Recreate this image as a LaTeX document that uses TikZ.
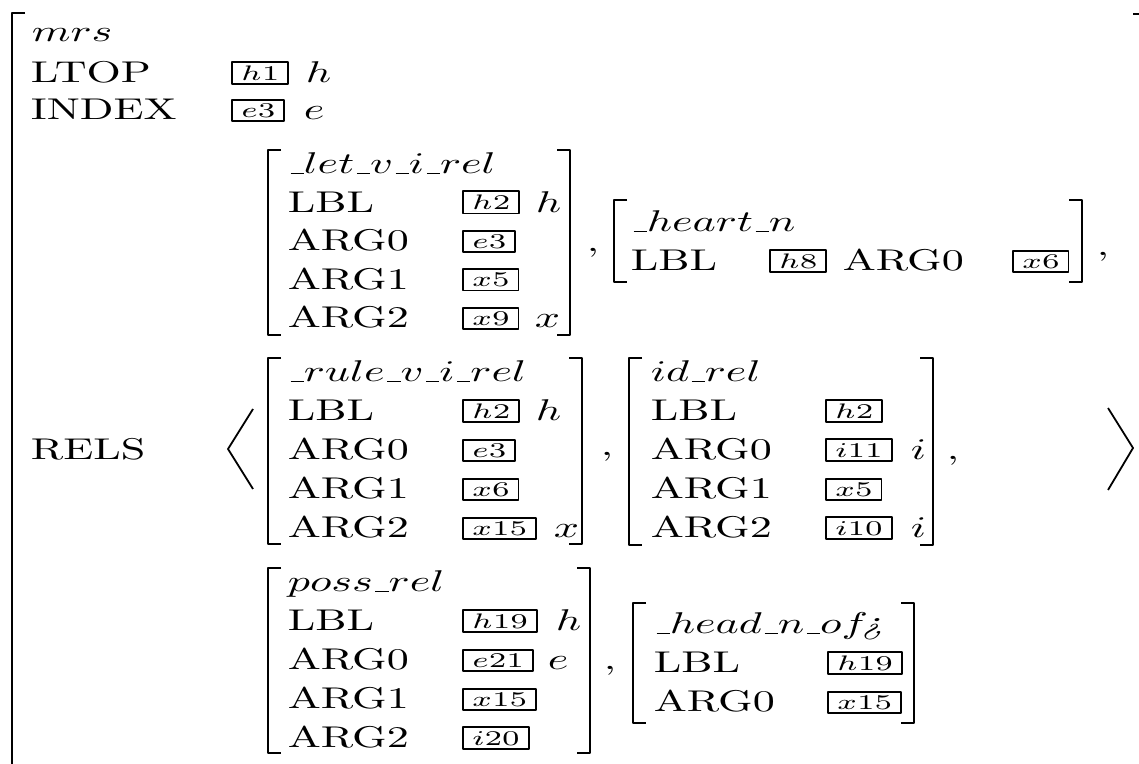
\documentclass[tikz,border=0pt]{standalone}
\usepackage{tikz}
\newcommand{\usc}{\kern.06em\vbox{\hrule width.3em}}

\begin{document}
\begin{tikzpicture}[x=0.22676pt,y=-0.33333pt,xscale=1.47,transform shape,line join=round,
    brak/.style={line width=0.9pt},
    angl/.style={line width=0.6pt},
    feat/.style={anchor=base west,inner sep=0pt},
    tagbox/.style={draw,line width=0.6pt,anchor=south west,inner xsep=2pt,inner ysep=1.3pt,font=\fontsize{7}{8}\selectfont}]
    \useasboundingbox (0,0) rectangle (1139,764);
    % outer mrs
    \draw [brak] (25,13)--(12,13)--(12,764);
    \draw [brak] (1133,14)--(1139,14);
    \node [feat] (mrs) at (31,42) {$mrs$};
    \node [feat] (ltop) at (30,83) {LTOP};
    \node [tagbox] (ltop-t) at (231,85) {$h1$};
    \node [feat] (ltop-v) at (305,83) {$h$};
    \node [feat] (index) at (30,120) {INDEX};
    \node [tagbox] (index-t) at (231,122) {$e3$};
    \node [feat] (index-v) at (303,120) {$e$};
    \node [feat] (rels) at (30,460) {RELS};
    \draw [angl] (253,409)--(228,449)--(253,489);
    \draw [angl] (1108,408)--(1133,448)--(1108,490);
    % brackets of the relations
    \foreach \xa/\xb/\ya/\yb in {268/570/150/335,614/1082/200/282,268/582/358/544,629/933/358/545,268/590/568/753,633/914/603/723}
        \draw [brak] (\xa+13,\ya)-|(\xa,\yb)--(\xa+13,\yb) (\xb-13,\ya)-|(\xb,\yb)--(\xb-13,\yb);
    \foreach \cx/\cy [count=\i] in {586/252,1096/256,600/456,946/460,603/670}
        \node [feat] (comma\i) at (\cx,\cy) {,};
    % _let_v_i_rel
    \node [feat] (let) at (287,174) {$\usc let\usc v\usc i\usc rel$};
    \foreach \f/\t/\v/\vx [count=\i] in {LBL/h2/h/535,ARG0/e3/-/0,ARG1/x5/-/0,ARG2/x9/x/534}{
        \node [feat] (let-f\i) at (287,174+38.5*\i) {\f};
        \node [tagbox] (let-t\i) at (462,176+38.5*\i) {$\t$};
        \ifnum\vx>0 \node [feat] (let-v\i) at (\vx,174+38.5*\i) {$\v$};\fi
    }
    % _heart_n
    \node [feat] (heart) at (630,232) {$\usc heart\usc n$};
    \node [feat] (heart-f1) at (630,271) {LBL};
    \node [tagbox] (heart-t1) at (769,273) {$h8$};
    \node [feat] (heart-f2) at (842,271) {ARG0};
    \node [tagbox] (heart-t2) at (1012,273) {$x6$};
    % _rule_v_i_rel
    \node [feat] (rule) at (287,382) {$\usc rule\usc v\usc i\usc rel$};
    \foreach \f/\t/\v/\vx [count=\i] in {LBL/h2/h/535,ARG0/e3/-/0,ARG1/x6/-/0,ARG2/x15/x/553}{
        \node [feat] (rule-f\i) at (287,382+39*\i) {\f};
        \node [tagbox] (rule-t\i) at (462,384+39*\i) {$\t$};
        \ifnum\vx>0 \node [feat] (rule-v\i) at (\vx,382+39*\i) {$\v$};\fi
    }
    % id_rel
    \node [feat] (id) at (650,382) {$id\usc rel$};
    \foreach \f/\t/\v/\vx [count=\i] in {LBL/h2/-/0,ARG0/i11/i/910,ARG1/x5/-/0,ARG2/i10/i/910}{
        \node [feat] (id-f\i) at (650,382+39*\i) {\f};
        \node [tagbox] (id-t\i) at (825,384+39*\i) {$\t$};
        \ifnum\vx>0 \node [feat] (id-v\i) at (\vx,382+39*\i) {$\v$};\fi
    }
    % poss_rel
    \node [feat] (poss) at (287,592) {$poss\usc rel$};
    \foreach \f/\t/\v/\vx [count=\i] in {LBL/h19/h/555,ARG0/e21/e/547,ARG1/x15/-/0,ARG2/i20/-/0}{
        \node [feat] (poss-f\i) at (287,592+39*\i) {\f};
        \node [tagbox] (poss-t\i) at (462,594+39*\i) {$\t$};
        \ifnum\vx>0 \node [feat] (poss-v\i) at (\vx,592+39*\i) {$\v$};\fi
    }
    % _head_n_of
    \node [feat] (head) at (653,634) {$\usc head\usc n\usc of$\kern-1.6pt\textit{¿}};
    \foreach \f/\t [count=\i] in {LBL/h19,ARG0/x15}{
        \node [feat] (head-f\i) at (653,634+39*\i) {\f};
        \node [tagbox] (head-t\i) at (827,636+39*\i) {$\t$};
    }
\end{tikzpicture}
\end{document}
